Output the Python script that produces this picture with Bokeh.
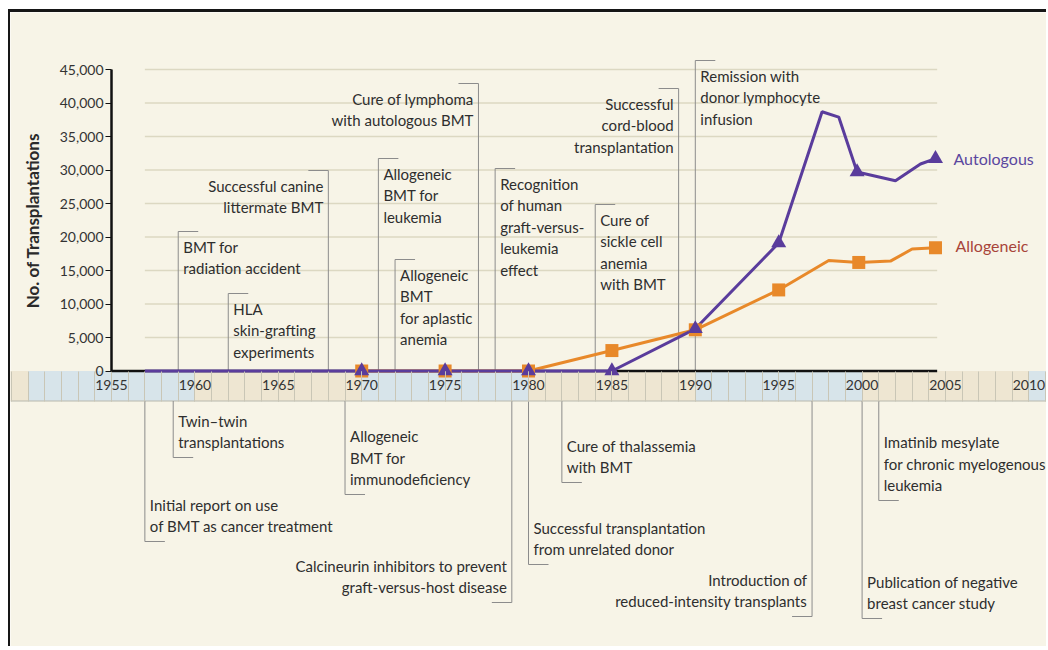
from bokeh.plotting import figure
from bokeh.models import Range1d, LinearAxis, FixedTicker, NumeralTickFormatter
from bokeh.core.properties import value
from bokeh.embed import file_html
from bokeh.resources import INLINE

# ---------------- data ----------------
auto_years = [1957, 1970, 1975, 1980, 1985, 1990, 1995, 1997.6, 1998.6, 1999.7, 2002.0, 2003.5, 2004.4]
auto_vals = [0, 0, 0, 0, 0, 6300, 19100, 38700, 37900, 29700, 28400, 30900, 31700]
auto_marker_years = [1970, 1975, 1980, 1985, 1990, 1995, 1999.7, 2004.4]
auto_marker_vals = [0, 0, 0, 0, 6300, 19100, 29700, 31700]

allo_years = [1970, 1975, 1980, 1985, 1990, 1995, 1998.0, 1999.8, 2001.7, 2003.0, 2004.4]
allo_vals = [0, 0, 0, 3050, 6150, 12100, 16500, 16200, 16400, 18200, 18400]
allo_marker_years = [1970, 1975, 1980, 1985, 1990, 1995, 1999.8, 2004.4]
allo_marker_vals = [0, 0, 0, 3050, 6150, 12100, 16200, 18400]

y_ticks = [0, 5000, 10000, 15000, 20000, 25000, 30000, 35000, 40000, 45000]
x_ticks = [1955, 1960, 1965, 1970, 1975, 1980, 1985, 1990, 1995, 2000, 2005, 2010]
decades = [1940, 1950, 1960, 1970, 1980, 1990, 2000, 2010]

# events above the axis: text, year
events_up = [
    ("BMT for\nradiation accident", 1959.0),
    ("HLA\nskin-grafting\nexperiments", 1962.0),
    ("Successful canine\nlittermate BMT", 1968.0),
    ("Allogeneic\nBMT for\nleukemia", 1971.0),
    ("Allogeneic\nBMT\nfor aplastic\nanemia", 1972.0),
    ("Cure of lymphoma\nwith autologous BMT", 1977.0),
    ("Recognition\nof human\ngraft-versus-\nleukemia\neffect", 1978.0),
    ("Cure of\nsickle cell\nanemia\nwith BMT", 1984.0),
    ("Successful\ncord-blood\ntransplantation", 1989.0),
    ("Remission with\ndonor lymphocyte\ninfusion", 1990.0),
]
# events below the band
events_down = [
    ("Initial report on use\nof BMT as cancer treatment", 1957.0),
    ("Twin\u2013twin\ntransplantations", 1958.7),
    ("Allogeneic\nBMT for\nimmunodeficiency", 1969.0),
    ("Calcineurin inhibitors to prevent\ngraft-versus-host disease", 1979.0),
    ("Successful transplantation\nfrom unrelated donor", 1980.0),
    ("Cure of thalassemia\nwith BMT", 1982.0),
    ("Introduction of\nreduced-intensity transplants", 1997.0),
    ("Publication of negative\nbreast cancer study", 2000.0),
    ("Imatinib mesylate\nfor chronic myelogenous\nleukemia", 2001.0),
]

# ---------------- layout (positions / styles) ----------------
W, H = 1038, 637
CANVAS_X0, CANVAS_Y0 = 10, 12
PX_YEAR = 16.68
AXIS_X_PAGE = 111
PX_UNIT = 6.7 / 1000.0
Y0_PAGE = 370.5

x_start = 1955 - (AXIS_X_PAGE - CANVAS_X0) / PX_YEAR
x_end = x_start + W / PX_YEAR
y_end = (Y0_PAGE - CANVAS_Y0) / PX_UNIT
y_start = y_end - H / PX_UNIT


def ypix(page_y):
    return (Y0_PAGE - page_y) / PX_UNIT


BAND_BOTTOM = ypix(400.5)
GRID_X0, GRID_X1 = 1957, 2004.5
BASE_X0, BASE_X1 = 1955, 2004.5
TICK_LEN = 20 / PX_YEAR
minor_years = list(range(int(x_start) + 1, int(x_end) + 1))

# per-event layout: (page y of the flag, text side)
up_layout = [(231, "left"), (293, "left"), (170, "right"), (158, "left"), (259, "left"),
             (83, "right"), (168, "left"), (204, "left"), (88, "right"), (60, "left")]
down_layout = [(541, "left"), (457, "left"), (494, "left"), (602, "right"), (564, "left"),
               (482, "left"), (616, "right"), (618, "left"), (500, "left")]

BG = "#f7f4e7"
BLUE_BAND = "#d7e4ea"
BEIGE_BAND = "#eee6d2"
GRID_C = "#dcd8c2"
CONN_C = "#8c8c8c"
TXT_C = "#2e2e2e"
PURPLE = "#5a3c9c"
ORANGE = "#e8892a"
FONT = "Lato"

p = figure(width=W, height=H, output_backend="svg", toolbar_location=None,
           x_axis_type=None, y_axis_type=None,
           x_range=Range1d(x_start, x_end), y_range=Range1d(y_start, y_end),
           min_border=0, min_border_left=0, min_border_right=0,
           min_border_top=0, min_border_bottom=0)
p.background_fill_color = BG
p.border_fill_color = BG
p.outline_line_color = None
p.grid.visible = False
p.margin = (9, 0, 0, 8)
p.styles = {"border-top": "3px solid #161616", "border-left": "2px solid #161616"}

# band of decades
band_right = [d + 10 for d in decades]
band_colors = [BLUE_BAND if (d // 10) % 2 == 1 else BEIGE_BAND for d in decades]
p.quad(left=decades, right=band_right, top=[0] * len(decades), bottom=[BAND_BOTTOM] * len(decades),
       fill_color=band_colors, line_color=None)
p.segment(x0=[x_start], x1=[x_end], y0=[BAND_BOTTOM], y1=[BAND_BOTTOM], line_color="#b8b8ae", line_width=1)

# horizontal grid lines
gy = [t for t in y_ticks if t > 0]
p.segment(x0=[GRID_X0] * len(gy), x1=[GRID_X1] * len(gy), y0=gy, y1=gy, line_color=GRID_C, line_width=1.6)

# connectors above
ux = [e[1] for e in events_up]
uy = [ypix(l[0]) for l in up_layout]
p.segment(x0=ux, x1=ux, y0=[0] * len(ux), y1=uy, line_color=CONN_C, line_width=1)
utx = [x + (TICK_LEN if l[1] == "left" else -TICK_LEN) for x, l in zip(ux, up_layout)]
p.segment(x0=ux, x1=utx, y0=uy, y1=uy, line_color=CONN_C, line_width=1)

# connectors below
dx = [e[1] for e in events_down]
dy = [ypix(l[0]) for l in down_layout]
p.segment(x0=dx, x1=dx, y0=[BAND_BOTTOM] * len(dx), y1=dy, line_color=CONN_C, line_width=1)
dtx = [x + (TICK_LEN if l[1] == "left" else -TICK_LEN) for x, l in zip(dx, down_layout)]
p.segment(x0=dx, x1=dtx, y0=dy, y1=dy, line_color=CONN_C, line_width=1)


# annotation texts
def add_texts(events, layout, baseline, yoff):
    for side in ("left", "right"):
        sel = [(e, l) for e, l in zip(events, layout) if l[1] == side]
        if not sel:
            continue
        p.text(x=[e[1] for e, l in sel], y=[ypix(l[0]) for e, l in sel], text=[e[0] for e, l in sel],
               text_align=side, text_baseline=baseline,
               x_offset=5 if side == "left" else -5, y_offset=yoff,
               text_font=value(FONT), text_font_size="15px", text_color=TXT_C, text_line_height=1.2)


add_texts(events_up, up_layout, "top", 6)
add_texts(events_down, down_layout, "bottom", -6)

# baseline
p.segment(x0=[BASE_X0], x1=[BASE_X1], y0=[0], y1=[0], line_color="#111111", line_width=2.5)

# series
p.line(allo_years, allo_vals, line_color=ORANGE, line_width=3)
p.line(auto_years, auto_vals, line_color=PURPLE, line_width=3)
p.scatter(allo_marker_years, allo_marker_vals, marker="square", size=13, fill_color=ORANGE, line_color=None)
p.scatter(auto_marker_years, auto_marker_vals, marker="triangle", size=15, fill_color=PURPLE, line_color=None)

p.text(x=[auto_years[-1]], y=[auto_vals[-1]], text=["Autologous"], x_offset=18, y_offset=0,
       text_align="left", text_baseline="middle", text_font=value(FONT), text_font_size="16px",
       text_color="#5b479f")
p.text(x=[allo_years[-1]], y=[allo_vals[-1]], text=["Allogeneic"], x_offset=20, y_offset=-2,
       text_align="left", text_baseline="middle", text_font=value(FONT), text_font_size="16px",
       text_color="#a8443a")

# y axis
yax = LinearAxis(fixed_location=1955, bounds=(0, 45000), ticker=FixedTicker(ticks=y_ticks),
                 formatter=NumeralTickFormatter(format="0,0"))
yax.axis_line_color = "#111111"
yax.axis_line_width = 2.5
yax.major_tick_line_color = "#111111"
yax.major_tick_line_width = 1.2
yax.major_tick_out = 6
yax.major_tick_in = 0
yax.minor_tick_line_color = None
yax.major_label_standoff = 2
yax.major_label_text_font = FONT
yax.major_label_text_font_size = "14px"
yax.major_label_text_color = "#333333"
yax.axis_label = "No. of Transplantations"
yax.axis_label_text_font = FONT
yax.axis_label_text_font_style = "bold"
yax.axis_label_text_font_size = "17px"
yax.axis_label_text_color = "#2a2a2a"
yax.axis_label_standoff = 14
p.add_layout(yax, "left")

# x axis inside the band
xax = LinearAxis(fixed_location=0, ticker=FixedTicker(ticks=x_ticks, minor_ticks=minor_years))
xax.axis_line_color = None
xax.major_tick_out = 30
xax.major_tick_in = 0
xax.minor_tick_out = 30
xax.minor_tick_in = 0
xax.major_tick_line_color = "#c9c6b6"
xax.minor_tick_line_color = "#c9c6b6"
xax.major_tick_line_width = 1
xax.minor_tick_line_width = 1
xax.major_label_standoff = -21
xax.major_label_text_font = FONT
xax.major_label_text_font_size = "14px"
xax.major_label_text_color = "#333333"
p.add_layout(xax, "below")

open("out.html", "w").write(file_html(p, INLINE))
